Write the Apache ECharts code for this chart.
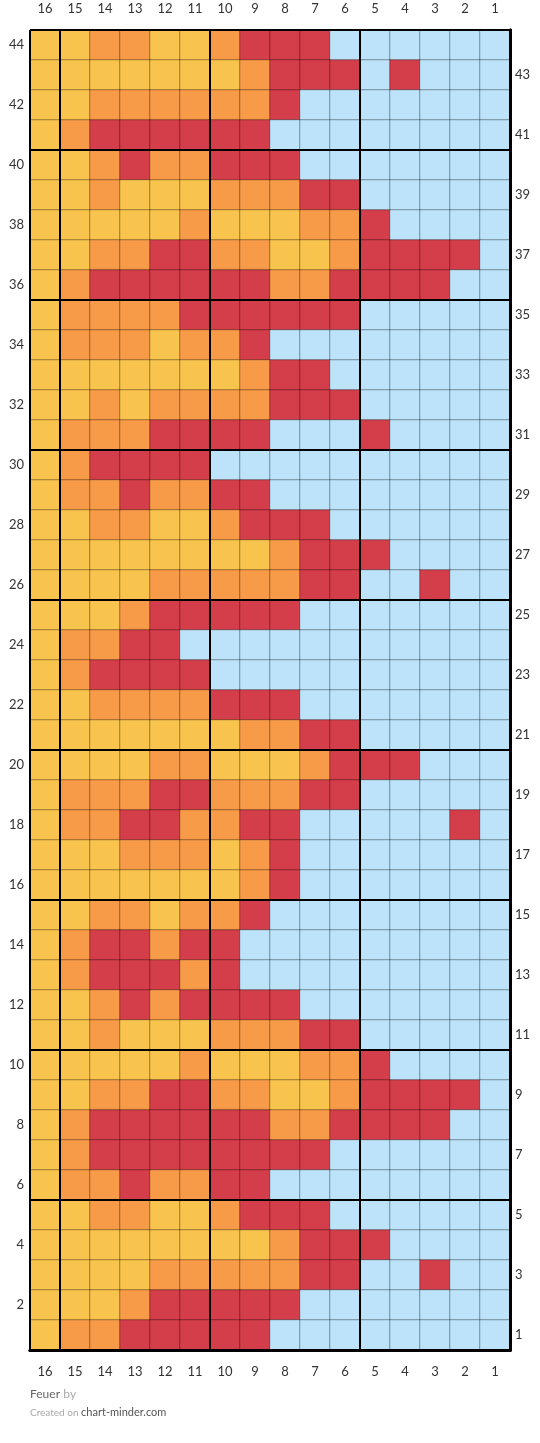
<!DOCTYPE html>
<html>
<head>
<meta charset="utf-8">
<script src="https://cdn.jsdelivr.net/npm/echarts@6/dist/echarts.min.js"></script>
<style>
  html, body { margin: 0; padding: 0; background: #fff; }
  #chart { width: 540px; height: 1443px; }
</style>
</head>
<body>
<div id="chart"></div>
<script>
// stitch columns, left to right as printed
var cols = ['16','15','14','13','12','11','10','9','8','7','6','5','4','3','2','1'];
// row numbers, bottom to top
var rowNums = [];
for (var n = 1; n <= 44; n++) rowNums.push(String(n));

// colour keys: Y yellow, O orange, R red, B blue
var colorKeys = ['Y', 'O', 'R', 'B'];
var colorValues = ['#F9C44E', '#F89B48', '#D43E4A', '#BDE3FA'];

// chart rows, from row 44 (top) down to row 1 (bottom)
var rows = [
  'YYOOYYORRRBBBBBB', // 44
  'YYYYYYYORRRBRBBB', // 43
  'YYOOOOOORBBBBBBB', // 42
  'YORRRRRRBBBBBBBB', // 41
  'YYOROORRRBBBBBBB', // 40
  'YYOYYYOOORRBBBBB', // 39
  'YYYYYOYYYOORBBBB', // 38
  'YYOORROOYYORRRRB', // 37
  'YORRRRRROORRRRBB', // 36
  'YOOOORRRRRRBBBBB', // 35
  'YOOOYOORBBBBBBBB', // 34
  'YYYYYYYORRBBBBBB', // 33
  'YYOYOOOORRRBBBBB', // 32
  'YOOORRRRBBBRBBBB', // 31
  'YORRRRBBBBBBBBBB', // 30
  'YOOROORRBBBBBBBB', // 29
  'YYOOYYORRRBBBBBB', // 28
  'YYYYYYYYORRRBBBB', // 27
  'YYYYOOOOORRBBRBB', // 26
  'YYYORRRRRBBBBBBB', // 25
  'YOORRBBBBBBBBBBB', // 24
  'YORRRRBBBBBBBBBB', // 23
  'YYOOOORRRBBBBBBB', // 22
  'YYYYYYYOORRBBBBB', // 21
  'YYYYOOYYYORRRBBB', // 20
  'YOOORROOORRBBBBB', // 19
  'YOORROORRBBBBBRB', // 18
  'YYYOOOYORBBBBBBB', // 17
  'YYYYYYYORBBBBBBB', // 16
  'YYOOYOORBBBBBBBB', // 15
  'YORRORRBBBBBBBBB', // 14
  'YORRRORBBBBBBBBB', // 13
  'YYORORRRRBBBBBBB', // 12
  'YYOYYYOOORRBBBBB', // 11
  'YYYYYOYYYOORBBBB', // 10
  'YYOORROOYYORRRRB', // 9
  'YORRRRRROORRRRBB', // 8
  'YORRRRRRRRBBBBBB', // 7
  'YOOROORRBBBBBBBB', // 6
  'YYOOYYORRRBBBBBB', // 5
  'YYYYYYYYORRRBBBB', // 4
  'YYYYOOOOORRBBRBB', // 3
  'YYYORRRRRBBBBBBB', // 2
  'YOORRRRRBBBBBBBB'  // 1
];

let cells = [];
rows.forEach(function (line, i) {
  let rowNum = rows.length - i;
  for (let j = 0; j < line.length; j++) {
    cells.push([j, rowNum - 1, colorKeys.indexOf(line[j])]);
  }
});

let dom = document.getElementById('chart');
let myChart = echarts.init(dom);

let labelFont = {
  color: '#333',
  fontSize: 13,
  fontFamily: 'Lato, "Open Sans", sans-serif'
};

let option = {
  animation: false,
  grid: {
    left: 30,
    top: 30,
    width: 480,
    height: 1320
  },
  xAxis: [{
      type: 'category',
      position: 'top',
      data: cols,
      z: 10,
      axisTick: { show: false },
      axisLine: { show: true, lineStyle: { color: '#000', width: 3 } },
      axisLabel: Object.assign({ margin: 15 }, labelFont),
      splitLine: { show: false }
    },
    {
      type: 'category',
      position: 'bottom',
      data: cols,
      z: 10,
      axisTick: { show: false },
      axisLine: { show: true, lineStyle: { color: '#000', width: 3 } },
      axisLabel: Object.assign({ margin: 15 }, labelFont),
      splitLine: { show: false }
    },
    {
      // overlay for the thick lines every 5 stitches
      type: 'value',
      position: 'bottom',
      min: 0,
      max: 16,
      interval: 5,
      inverse: true,
      z: 11,
      axisLine: { show: false },
      axisTick: { show: false },
      axisLabel: { show: false },
      splitLine: { show: true, lineStyle: { color: '#000', width: 2 } }
  }],
  yAxis: [{
      type: 'category',
      position: 'left',
      data: rowNums,
      z: 10,
      axisTick: { show: false },
      axisLine: { show: true, lineStyle: { color: '#000', width: 3 } },
      axisLabel: Object.assign({
        margin: 6,
        interval: function (index, value) { return +value % 2 === 0; }
      }, labelFont),
      splitLine: { show: false }
    },
    {
      type: 'category',
      position: 'right',
      data: rowNums,
      z: 10,
      axisTick: { show: false },
      axisLine: { show: true, lineStyle: { color: '#000', width: 3 } },
      axisLabel: Object.assign({
        margin: 5,
        interval: function (index, value) { return +value % 2 === 1; }
      }, labelFont),
      splitLine: { show: false }
    },
    {
      // overlay for the thick lines every 5 rows
      type: 'value',
      position: 'left',
      min: 0,
      max: 44,
      interval: 5,
      z: 11,
      axisLine: { show: false },
      axisTick: { show: false },
      axisLabel: { show: false },
      splitLine: { show: true, lineStyle: { color: '#000', width: 2 } }
  }],
  visualMap: {
    type: 'piecewise',
    show: false,
    dimension: 2,
    seriesIndex: 0,
    pieces: colorValues.map(function (c, i) { return { value: i, color: c }; })
  },
  graphic: [{
      type: 'text',
      left: 30,
      top: 1388,
      silent: true,
      style: {
        text: '{a|Feuer} {b|by}',
        rich: {
          a: { fill: '#666', font: '12px Lato, sans-serif' },
          b: { fill: '#aaa', font: '12px Lato, sans-serif' }
        }
      }
    },
    {
      type: 'text',
      left: 30,
      top: 1407,
      silent: true,
      style: {
        text: '{a|Created on }{b|chart-minder.com}',
        rich: {
          a: { fill: '#aaa', font: '10px Lato, sans-serif' },
          b: { fill: '#555', font: '11px Lato, sans-serif' }
        }
      }
  }],
  series: [{
    name: 'Feuer',
    type: 'heatmap',
    xAxisIndex: 0,
    yAxisIndex: 0,
    data: cells,
    itemStyle: {
      borderColor: 'rgba(0,0,0,0.35)',
      borderWidth: 1
    },
    emphasis: { disabled: true }
  }]
};

myChart.setOption(option, true);

window.addEventListener('resize', function () {
  myChart.resize();
});
</script>
</body>
</html>
